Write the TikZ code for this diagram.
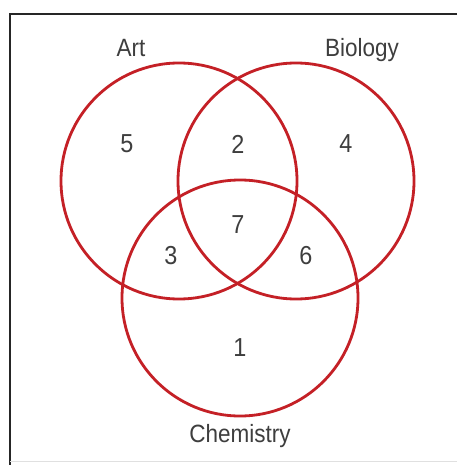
\documentclass[tikz,border=0pt]{standalone}
\usepackage{fontspec}
\setmainfont{Liberation Sans}[FakeStretch=0.9]
\begin{document}
\begin{tikzpicture}[x=1pt,y=-1pt,
  setcircle/.style={circle, draw=vred, line width=2.8pt, minimum size=236pt, inner sep=0pt},
  setlabel/.style={text=tgray, font=\fontsize{25}{27}\selectfont, inner sep=0pt},
  count/.style={text=tgray, font=\fontsize{26}{28}\selectfont, inner sep=0pt}]
\definecolor{vred}{RGB}{196,32,38}
\definecolor{tgray}{RGB}{62,62,62}
\useasboundingbox (0,0) rectangle (457,465);
\fill[white] (0,0) rectangle (457,465);
\draw[line width=2pt, black!85] (457,14) -- (10,14) -- (10,465);
\draw[line width=0.8pt, black!12] (10,461) -- (457,461);
\node[setcircle] (art) at (179,181) {};
\node[setcircle] (bio) at (296,181) {};
\node[setcircle] (chem) at (240,298) {};
\node[setlabel] (lart) at (131,48) {Art};
\node[setlabel] (lbio) at (362,50) {Biology};
\node[setlabel] (lchem) at (240,436) {Chemistry};
\node[count] (n5) at (127,144) {5};
\node[count] (n2) at (238,144) {2};
\node[count] (n4) at (346,144) {4};
\node[count] (n7) at (238,225) {7};
\node[count] (n3) at (171,256) {3};
\node[count] (n6) at (306,256) {6};
\node[count] (n1) at (240,348) {1};
\end{tikzpicture}
\end{document}
